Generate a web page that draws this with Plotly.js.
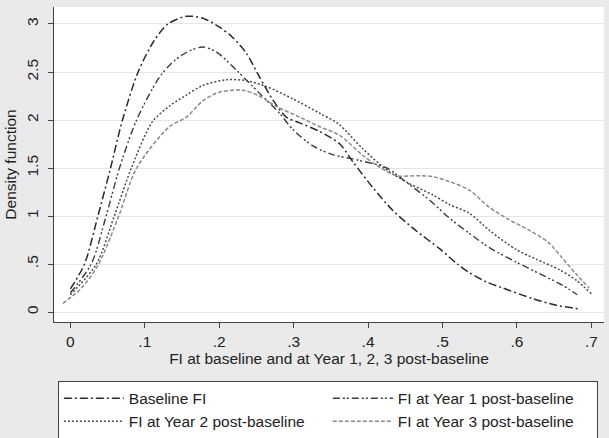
<!DOCTYPE html>
<html>
<head>
<meta charset="utf-8">
<script src="https://cdn.plot.ly/plotly-3.0.1.min.js"></script>
<style>html,body{margin:0;padding:0;background:#eaeaea;}#chart{width:609px;height:438px;}</style>
</head>
<body>
<div id="chart"></div>
<script>
// Data (kernel density estimates)
const baselineX = [0.0, 0.019, 0.037, 0.054, 0.070, 0.091, 0.112, 0.131, 0.156, 0.178, 0.200, 0.218, 0.236, 0.254, 0.272, 0.290, 0.308, 0.335, 0.362, 0.380, 0.406, 0.433, 0.464, 0.496, 0.520, 0.536, 0.560, 0.581, 0.621, 0.653, 0.686];
const baselineY = [0.24, 0.50, 1.00, 1.50, 2.00, 2.50, 2.82, 3.00, 3.08, 3.06, 2.97, 2.86, 2.70, 2.45, 2.21, 2.03, 1.97, 1.88, 1.75, 1.56, 1.30, 1.06, 0.85, 0.66, 0.50, 0.41, 0.31, 0.25, 0.14, 0.07, 0.03];

const year1X = [0.0, 0.028, 0.048, 0.066, 0.089, 0.120, 0.140, 0.160, 0.178, 0.196, 0.223, 0.254, 0.281, 0.299, 0.326, 0.352, 0.388, 0.425, 0.455, 0.482, 0.509, 0.536, 0.563, 0.599, 0.630, 0.661, 0.681];
const year1Y = [0.20, 0.50, 1.00, 1.50, 2.00, 2.45, 2.62, 2.72, 2.76, 2.71, 2.52, 2.28, 2.07, 1.90, 1.73, 1.64, 1.58, 1.50, 1.33, 1.17, 0.98, 0.82, 0.67, 0.52, 0.40, 0.28, 0.18];

const year2X = [0.0, 0.035, 0.059, 0.082, 0.110, 0.134, 0.156, 0.178, 0.210, 0.236, 0.263, 0.299, 0.335, 0.360, 0.393, 0.425, 0.455, 0.487, 0.509, 0.536, 0.563, 0.599, 0.626, 0.657, 0.680, 0.700];
const year2Y = [0.18, 0.50, 1.00, 1.50, 1.98, 2.15, 2.26, 2.36, 2.42, 2.41, 2.35, 2.22, 2.07, 1.96, 1.70, 1.48, 1.34, 1.22, 1.12, 1.03, 0.85, 0.65, 0.55, 0.44, 0.33, 0.19];

const year3X = [-0.010, 0.015, 0.038, 0.065, 0.089, 0.133, 0.156, 0.178, 0.200, 0.232, 0.254, 0.277, 0.308, 0.335, 0.362, 0.393, 0.415, 0.438, 0.469, 0.487, 0.509, 0.536, 0.563, 0.590, 0.617, 0.643, 0.660, 0.679, 0.697];
const year3Y = [0.09, 0.25, 0.50, 1.00, 1.50, 1.93, 2.03, 2.20, 2.29, 2.31, 2.25, 2.14, 2.03, 1.93, 1.84, 1.63, 1.51, 1.42, 1.42, 1.41, 1.36, 1.27, 1.09, 0.96, 0.85, 0.72, 0.57, 0.40, 0.25];

const seriesNames = ["Baseline FI", "FI at Year 1 post-baseline", "FI at Year 2 post-baseline", "FI at Year 3 post-baseline"];

const xTickVals = [0, 0.1, 0.2, 0.3, 0.4, 0.5, 0.6, 0.7];
const xTickText = ["0", ".1", ".2", ".3", ".4", ".5", ".6", ".7"];
const yTickVals = [0, 0.5, 1, 1.5, 2, 2.5, 3];
const yTickText = ["0", ".5", "1", "1.5", "2", "2.5", "3"];

const xTitle = "FI at baseline and at Year 1, 2, 3 post-baseline";
const yTitle = "Density function";

const FONT = "Liberation Sans, Arial, sans-serif";
const FS = 15.5;

const traces = [
  {x: baselineX, y: baselineY, name: seriesNames[0], mode: "lines",
   line: {color: "#2b2b2b", width: 1.5, dash: "8px,3px,2px,3px", shape: "spline", smoothing: 0.8}},
  {x: year1X, y: year1Y, name: seriesNames[1], mode: "lines",
   line: {color: "#3c3c3c", width: 1.4, dash: "7px,3px,2px,2px,2px,3px", shape: "spline", smoothing: 0.8}},
  {x: year2X, y: year2Y, name: seriesNames[2], mode: "lines",
   line: {color: "#4a4a4a", width: 1.5, dash: "2px,2px", shape: "spline", smoothing: 0.8}},
  {x: year3X, y: year3Y, name: seriesNames[3], mode: "lines",
   line: {color: "#8a8a8a", width: 1.5, dash: "4px,2px", shape: "spline", smoothing: 0.8}}
];

const layout = {
  width: 609, height: 438,
  paper_bgcolor: "#eaeaea",
  plot_bgcolor: "#ffffff",
  margin: {l: 54, r: 5, t: 7, b: 116},
  font: {family: FONT, size: FS, color: "#222"},
  showlegend: true,
  legend: {
    orientation: "h",
    xref: "paper", yref: "container",
    x: 0.007, xanchor: "left",
    y: 0.131, yanchor: "top",
    bgcolor: "#ffffff",
    bordercolor: "#444444",
    borderwidth: 1,
    entrywidth: 194,
    entrywidthmode: "pixels",
    itemwidth: 60,
    font: {family: FONT, size: FS, color: "#222"},
    traceorder: "normal"
  },
  xaxis: {
    range: [-0.022, 0.717],
    tickvals: xTickVals, ticktext: xTickText,
    ticks: "outside", ticklen: 5, tickcolor: "#444", tickwidth: 1,
    showline: true, linecolor: "#444", linewidth: 1,
    showgrid: false, zeroline: false,
    tickfont: {family: FONT, size: FS, color: "#222"},
    title: {text: xTitle, font: {family: FONT, size: FS, color: "#222"}, standoff: 4}
  },
  yaxis: {
    range: [-0.104, 3.177],
    tickvals: yTickVals, ticktext: yTickText,
    tickangle: -90,
    ticks: "outside", ticklen: 5, tickcolor: "#444", tickwidth: 1,
    ticklabelstandoff: 4,
    showline: true, linecolor: "#444", linewidth: 1,
    showgrid: true, gridcolor: "#e6e6e6", gridwidth: 1,
    zeroline: false,
    tickfont: {family: FONT, size: FS, color: "#222"},
    title: {text: yTitle, font: {family: FONT, size: FS, color: "#222"}, standoff: 3}
  }
};

Plotly.newPlot("chart", traces, layout, {displayModeBar: false, staticPlot: true});
</script>
</body>
</html>
